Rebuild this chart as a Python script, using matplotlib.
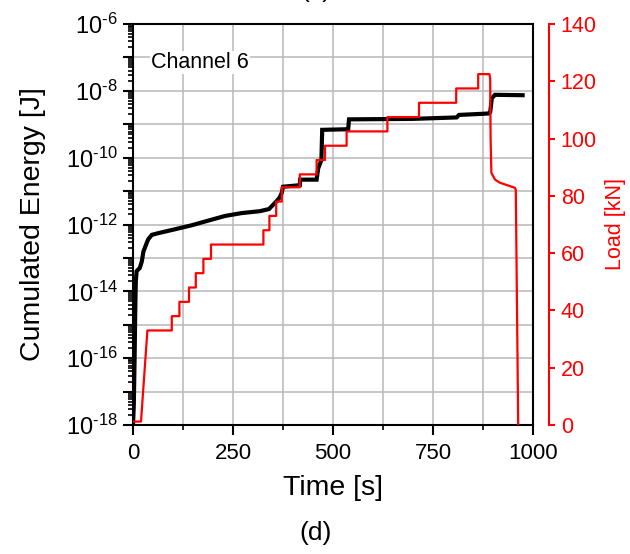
import matplotlib
matplotlib.use("Agg")
import matplotlib.pyplot as plt
from matplotlib.ticker import LogLocator, FuncFormatter, MultipleLocator, NullFormatter
import numpy as np

plt.rcParams['font.family'] = ['Liberation Sans', 'DejaVu Sans']
plt.rcParams['mathtext.fontset'] = 'custom'
plt.rcParams['mathtext.rm'] = 'Liberation Sans'
plt.rcParams['mathtext.it'] = 'Liberation Sans:italic'
plt.rcParams['mathtext.bf'] = 'Liberation Sans:bold'

# Cumulated acoustic energy, channel 6
energy_time = [0, 2, 3, 4, 5, 6, 7, 9, 13, 17, 22, 26, 34, 38, 47, 63, 105, 147,
               197, 230, 272, 317, 340, 359, 367, 372, 375, 417, 418, 459, 463,
               471, 473, 538, 540, 700, 809, 815, 890, 893, 897, 905, 974]
energy_j = [1e-18, 4e-18, 2e-17, 1e-16, 8e-16, 5e-15, 2e-14, 4e-14, 4.5e-14,
            5e-14, 7.8e-14, 1.55e-13, 2.75e-13, 3.6e-13, 4.9e-13, 5.5e-13,
            7.2e-13, 9.5e-13, 1.4e-12, 1.8e-12, 2.2e-12, 2.5e-12, 2.9e-12,
            5e-12, 6.5e-12, 9e-12, 1.35e-11, 1.5e-11, 2.2e-11, 2.2e-11, 4.8e-11,
            8.5e-11, 6.8e-10, 7.1e-10, 1.4e-9, 1.45e-9, 1.6e-9, 1.9e-9, 2.1e-9,
            2.3e-9, 6.0e-9, 7.6e-9, 7.4e-9]

# Applied load history
load_time = [0, 20, 36, 97, 97, 116, 116, 140, 140, 157, 157, 176, 176, 195, 195,
             326, 326, 341, 341, 358, 358, 372, 372, 417, 417, 459, 459, 480, 480,
             534, 534, 636, 636, 715, 715, 808, 808, 863, 863, 891, 893, 894,
             896, 905, 917, 955, 957, 963]
load_kn = [1.2, 1.2, 33, 33, 38, 38, 43, 43, 48, 48, 53, 53, 58, 58, 63, 63, 68,
           68, 73, 73, 78, 78, 83, 83, 87.5, 87.5, 92.5, 92.5, 97.5, 97.5, 102.5,
           102.5, 107.5, 107.5, 112.5, 112.5, 117.5, 117.5, 122.5, 122.5, 121,
           100, 88, 85.7, 84.6, 82.8, 82, 0]

x_ticks = [0, 250, 500, 750, 1000]
load_ticks = [0, 20, 40, 60, 80, 100, 120, 140]

RED = '#ff0000'
GRID = '#b8b8b8'

fig = plt.figure(figsize=(6.30, 5.54), dpi=100)
ax = fig.add_axes([133/630, 1 - 425/554, 400/630, 401/554])

ax.plot(energy_time, energy_j, color='black', lw=3.0, solid_joinstyle='miter', zorder=3)
ax.set_yscale('log')
ax.set_ylim(1e-18, 1e-6)
ax.set_xlim(0, 1000)

ax.yaxis.set_major_locator(LogLocator(base=10, numticks=30))
ax.yaxis.set_minor_locator(LogLocator(base=10, subs=np.arange(2, 10), numticks=30))


def even_decades(v, pos):
    e = int(round(np.log10(v)))
    if e % 2:
        return ''
    sign = r'\text{-}' if e < 0 else ''
    return r'$\mathdefault{10^{%s%d}}$' % (sign, abs(e))


ax.yaxis.set_major_formatter(FuncFormatter(even_decades))
ax.yaxis.set_minor_formatter(NullFormatter())
ax.xaxis.set_major_locator(MultipleLocator(250))
ax.xaxis.set_minor_locator(MultipleLocator(125))
ax.set_xticks(x_ticks)

ax.grid(True, which='major', axis='y', color=GRID, lw=1.1)
ax.grid(True, which='both', axis='x', color=GRID, lw=1.1)
ax.set_axisbelow(True)

ax.tick_params(axis='both', which='major', direction='out', length=7, width=1.5,
               color='black')
ax.tick_params(axis='both', which='minor', direction='out', length=3.6, width=1.2)
ax.tick_params(axis='y', which='major', labelsize=17, pad=4)
ax.tick_params(axis='x', which='major', labelsize=16, pad=6)
for s in ax.spines.values():
    s.set_linewidth(1.5)

ax.set_xlabel('Time [s]', fontsize=20.5, labelpad=8)
ax.set_ylabel('Cumulated Energy [J]', fontsize=20.5, labelpad=14)
ax.text(0.045, 0.905, 'Channel 6', transform=ax.transAxes, fontsize=15.5,
        ha='left', va='center', zorder=5,
        bbox=dict(boxstyle='square,pad=0.05', fc='white', ec='none'))

ax2 = ax.twinx()
ax2.plot(load_time, load_kn, color=RED, lw=1.6, zorder=4)
ax2.set_ylim(0, 140)
ax2.set_yticks(load_ticks)
for name in ('left', 'top', 'bottom'):
    ax2.spines[name].set_visible(False)
ax2.spines['right'].set_position(('outward', 11.5))
ax2.spines['right'].set_color(RED)
ax2.spines['right'].set_linewidth(1.5)
ax2.tick_params(axis='y', colors=RED, direction='out', length=4.5, width=1.5,
                labelsize=15.5, pad=4)
ax2.set_ylabel('Load [kN]', color=RED, fontsize=15.5, labelpad=6)

fig.text(316/630, 1 - 533/554, '(d)', fontsize=19, ha='center', va='center')
fig.text(316/630, 1 + 3/554, '(c)', fontsize=19, ha='center', va='baseline')

fig.savefig('out.png', dpi=100)
